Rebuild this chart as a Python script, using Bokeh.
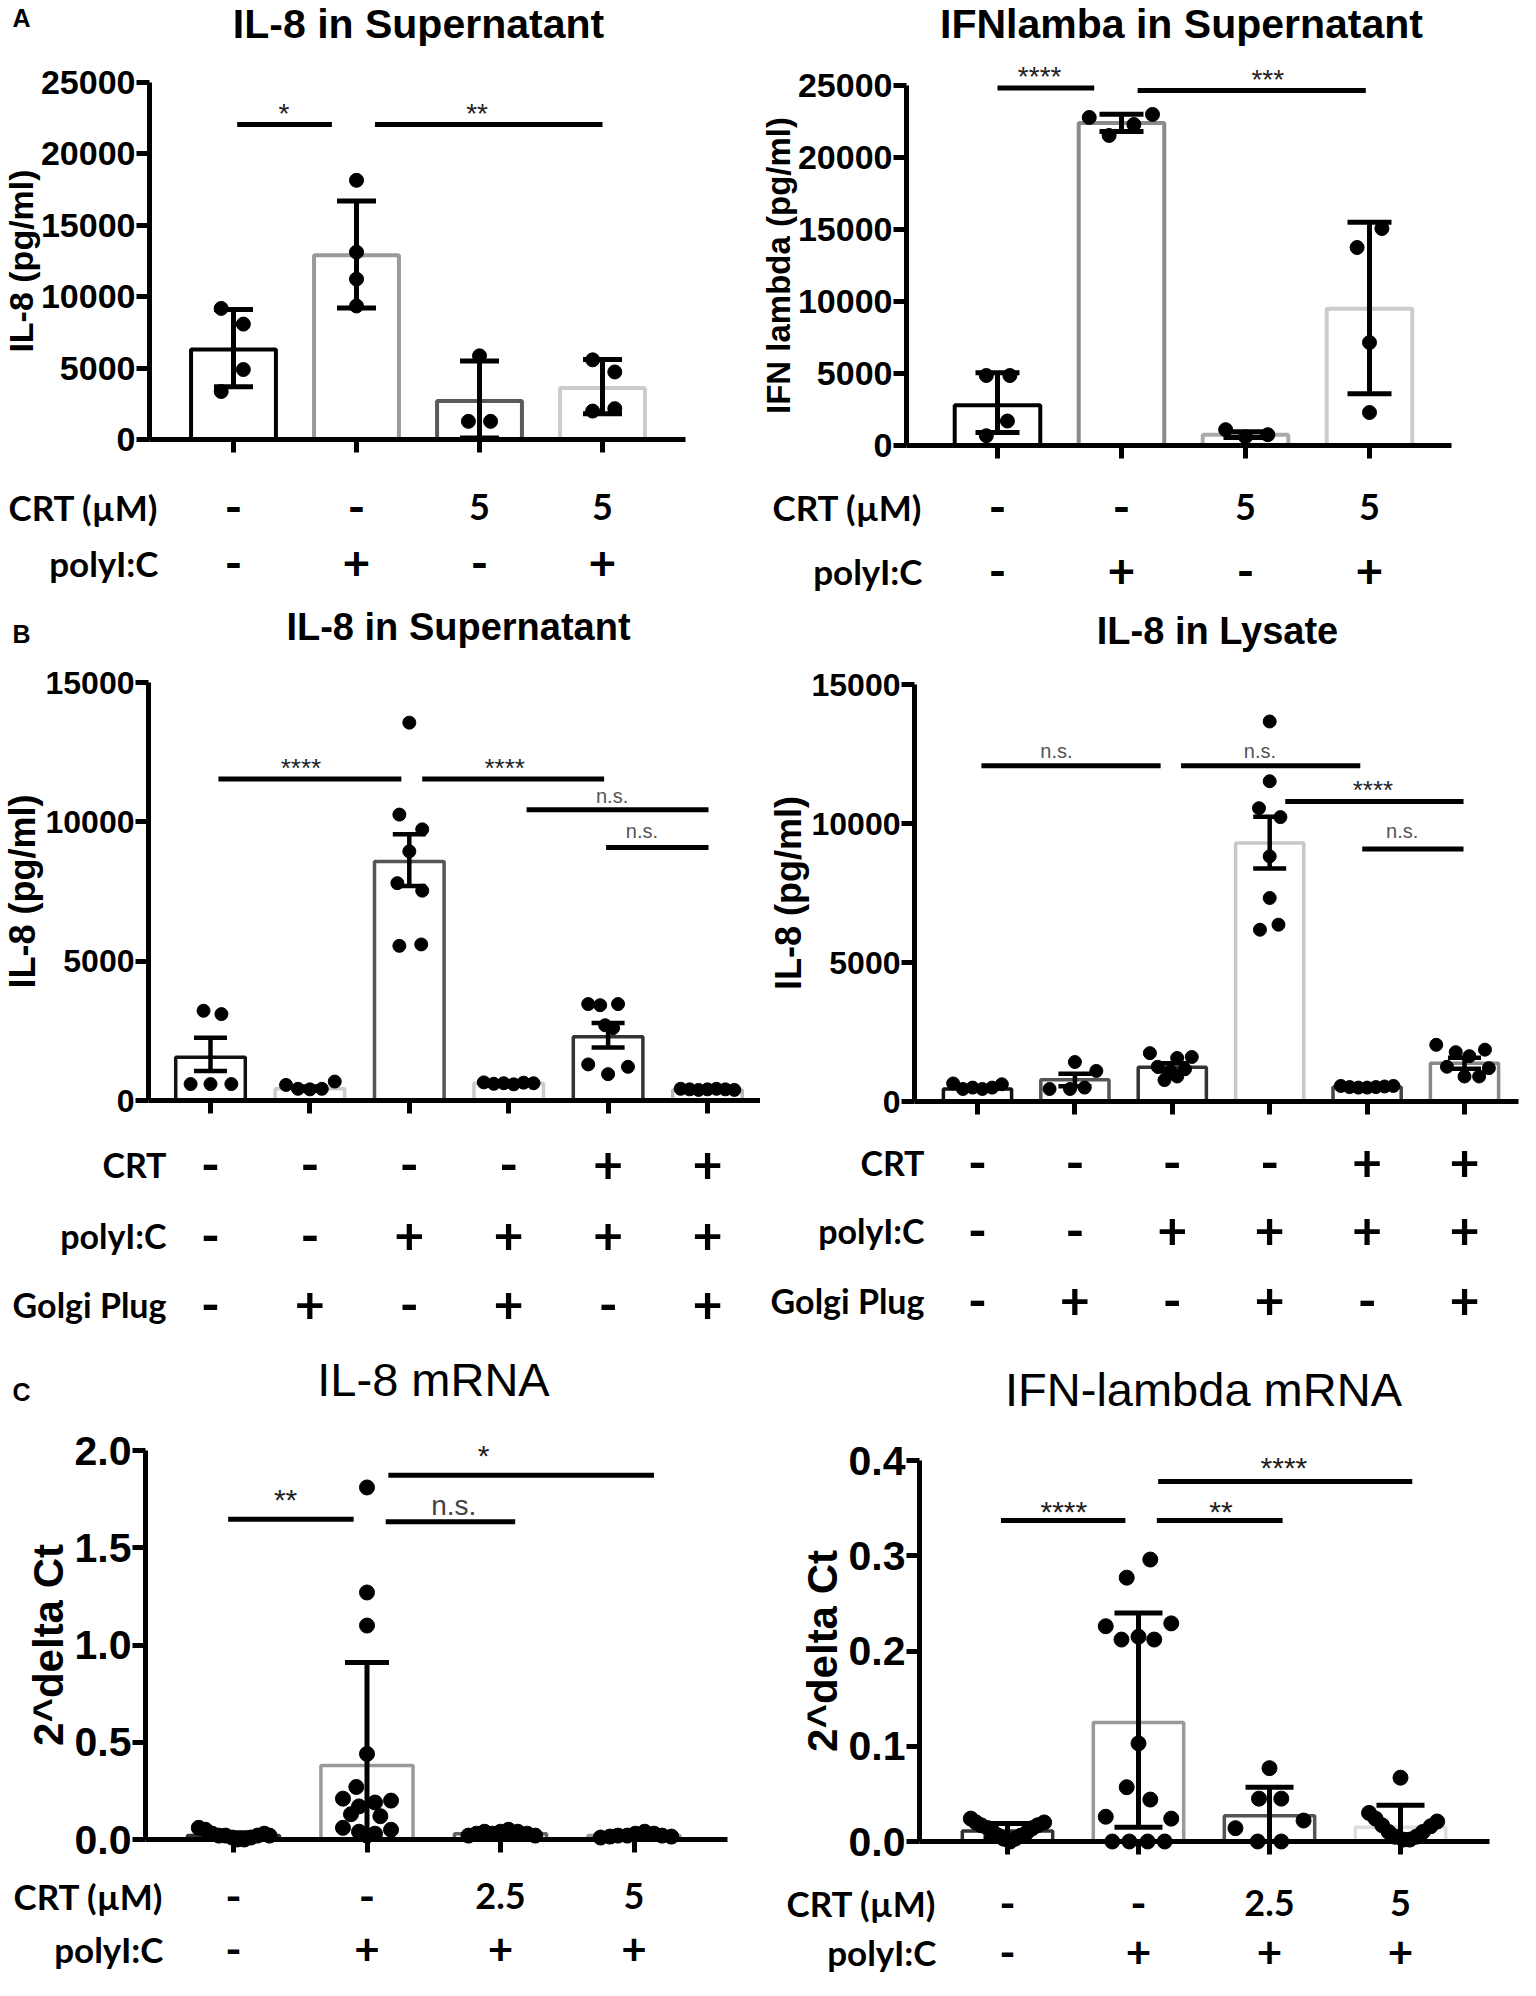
from bokeh.plotting import figure
from bokeh.models import (Range1d, LinearAxis, FixedTicker, NumeralTickFormatter,
                          BasicTickFormatter, ColumnDataSource, Whisker, TeeHead)
from bokeh.layouts import column, row
from bokeh.embed import file_html
from bokeh.resources import INLINE
from bokeh.core.properties import value

AXF = "Liberation Sans"
ROWF = "Lato"

# ====================== DATA ======================
# ---- A left: IL-8 in Supernatant (mean +/- SD) ----
a1_title = "IL-8 in Supernatant"
a1_ylabel = "IL-8 (pg/ml)"
a1_yticks = [0, 5000, 10000, 15000, 20000, 25000]
a1_mean = [6300, 12900, 2700, 3600]
a1_lo = [3700, 9200, 100, 1800]
a1_hi = [9100, 16700, 5500, 5600]
a1_pts = [[9180, 8080, 4900, 3360], [18150, 13120, 11230, 9350],
          [5860, 1270, 1270], [5580, 4730, 1990, 2160]]
a1_jit = [[-0.1, 0.08, 0.08, -0.1], [0, 0, 0, 0], [0, -0.09, 0.09], [-0.08, 0.1, -0.08, 0.1]]
a1_rows = ["CRT (µM)", "polyI:C"]
a1_vals = [["-", "-", "5", "5"], ["-", "+", "-", "+"]]
a1_sig = [(0.03, 0.80, 22060, 0.41, 23250, "*"), (1.15, 3.00, 22060, 1.98, 23250, "**")]
a1_colors = ["#000000", "#9a9a9a", "#5a5a5a", "#cccccc"]

# ---- A right: IFNlamba in Supernatant ----
a2_title = "IFNlamba in Supernatant"
a2_ylabel = "IFN lambda (pg/ml)"
a2_yticks = [0, 5000, 10000, 15000, 20000, 25000]
a2_mean = [2800, 22400, 750, 9500]
a2_lo = [900, 21800, 550, 3600]
a2_hi = [5050, 23000, 950, 15500]
a2_pts = [[4860, 4860, 1700, 680], [22780, 22990, 22290, 21530],
          [1100, 600, 750], [15070, 13750, 7150, 2290]]
a2_jit = [[-0.09, 0.1, 0.08, -0.09], [-0.26, 0.25, 0.1, -0.1], [-0.16, 0.0, 0.18], [0.1, -0.1, 0, 0]]
a2_rows = ["CRT (µM)", "polyI:C"]
a2_vals = [["-", "-", "5", "5"], ["-", "+", "-", "+"]]
a2_sig = [(0.0, 0.78, 24830, 0.34, 26040, "****"), (1.13, 2.97, 24650, 2.18, 25850, "***")]
a2_colors = ["#000000", "#8a8a8a", "#aaaaaa", "#cccccc"]

# ---- B left: IL-8 in Supernatant (mean +/- SEM) ----
b1_title = "IL-8 in Supernatant"
b1_ylabel = "IL-8 (pg/ml)"
b1_yticks = [0, 5000, 10000, 15000]
b1_mean = [1550, 420, 8580, 620, 2290, 380]
b1_lo = [1055, 350, 7700, 580, 1900, 350]
b1_hi = [2250, 500, 9550, 680, 2780, 420]
b1_pts = [[3220, 3100, 590, 590, 590],
          [560, 420, 400, 420, 680],
          [13560, 10260, 9730, 8940, 7800, 7530, 5550, 5600],
          [650, 600, 620, 580, 640, 620],
          [3460, 3420, 3460, 2700, 2600, 1295, 945, 1210],
          [420, 400, 380, 400, 420, 400, 380]]
b1_jit = [[-0.07, 0.11, -0.2, 0.0, 0.21],
          [-0.24, -0.12, 0.0, 0.12, 0.25],
          [0.0, -0.1, 0.13, 0.0, -0.12, 0.13, -0.1, 0.12],
          [-0.25, -0.15, -0.05, 0.05, 0.15, 0.25],
          [-0.2, -0.08, 0.1, -0.03, 0.05, -0.2, 0.0, 0.2],
          [-0.27, -0.18, -0.09, 0.0, 0.09, 0.18, 0.27]]
b1_rows = ["CRT", "polyI:C", "Golgi Plug"]
b1_vals = [["-", "-", "-", "-", "+", "+"], ["-", "-", "+", "+", "+", "+"], ["-", "+", "-", "+", "-", "+"]]
b1_sig = [(0.08, 1.92, 11540, 0.91, 12140, "****"), (2.13, 3.96, 11540, 2.96, 12140, "****"),
          (3.18, 5.01, 10435, 4.04, 10910, "n.s."), (3.98, 5.01, 9080, 4.34, 9680, "n.s.")]
b1_colors = ["#111111", "#cccccc", "#555555", "#cccccc", "#333333", "#bbbbbb"]

# ---- B right: IL-8 in Lysate ----
b2_title = "IL-8 in Lysate"
b2_ylabel = "IL-8 (pg/ml)"
b2_yticks = [0, 5000, 10000, 15000]
b2_mean = [450, 780, 1235, 9300, 520, 1376]
b2_lo = [400, 550, 1080, 8380, 480, 1180]
b2_hi = [500, 1000, 1380, 10240, 560, 1570]
b2_pts = [[650, 450, 500, 450, 500, 620],
          [450, 1420, 1100, 450, 500],
          [1740, 1565, 1600, 1250, 1080, 1160, 770, 900],
          [13670, 11520, 10550, 10230, 8820, 7320, 6180, 6360],
          [560, 520, 500, 500, 520, 540, 560],
          [2040, 1775, 1865, 1630, 1250, 900, 900, 1200]]
b2_jit = [[-0.25, -0.15, -0.05, 0.05, 0.15, 0.25],
          [-0.26, 0.0, 0.22, -0.05, 0.1],
          [-0.23, 0.05, 0.2, -0.15, -0.02, 0.13, -0.08, 0.05],
          [0.0, 0.0, -0.11, 0.11, 0.0, 0.0, -0.1, 0.09],
          [-0.27, -0.18, -0.09, 0.0, 0.09, 0.18, 0.27],
          [-0.29, -0.09, 0.21, 0.05, -0.18, 0.0, 0.15, 0.25]]
b2_rows = ["CRT", "polyI:C", "Golgi Plug"]
b2_vals = [["-", "-", "-", "-", "+", "+"], ["-", "-", "+", "+", "+", "+"], ["-", "+", "-", "+", "-", "+"]]
b2_sig = [(0.04, 1.88, 12080, 0.81, 12610, "n.s."), (2.09, 3.93, 12080, 2.90, 12610, "n.s."),
          (3.16, 4.99, 10795, 4.06, 11430, "****"), (3.95, 4.99, 9086, 4.36, 9740, "n.s.")]
b2_colors = ["#111111", "#555555", "#333333", "#c8c8c8", "#444444", "#888888"]

# ---- C left: IL-8 mRNA ----
c1_title = "IL-8 mRNA"
c1_ylabel = "2^delta Ct"
c1_yticks = [0.0, 0.5, 1.0, 1.5, 2.0]
c1_mean = [0.02, 0.38, 0.03, 0.02]
c1_lo = [0.005, 0.0, 0.01, 0.005]
c1_hi = [0.035, 0.91, 0.045, 0.035]
c1_pts = [[0.06, 0.05, 0.03, 0.02, 0.02, 0.01, 0.0, 0.0, 0.01, 0.02, 0.03, 0.02],
          [1.81, 1.27, 1.10, 0.44, 0.27, 0.21, 0.20, 0.19, 0.17, 0.13, 0.12, 0.06, 0.05, 0.04, 0.03, 0.02],
          [0.02, 0.03, 0.04, 0.03, 0.04, 0.05, 0.04, 0.03, 0.02],
          [0.01, 0.015, 0.02, 0.02, 0.03, 0.04, 0.03, 0.02, 0.015]]
c1_jit = [[-0.26, -0.21, -0.16, -0.11, -0.06, -0.01, 0.03, 0.08, 0.13, 0.18, 0.23, 0.27],
          [0, 0, 0, 0, -0.08, -0.18, 0.18, 0.06, -0.06, -0.12, 0.1, -0.18, 0.18, -0.06, 0.06, 0],
          [-0.24, -0.18, -0.12, -0.06, 0.0, 0.06, 0.13, 0.2, 0.26],
          [-0.25, -0.18, -0.12, -0.05, 0.01, 0.08, 0.15, 0.21, 0.28]]
c1_rows = ["CRT (µM)", "polyI:C"]
c1_vals = [["-", "-", "2.5", "5"], ["-", "+", "+", "+"]]
c1_sig = [(-0.04, 0.90, 1.647, 0.39, 1.785, "**"), (1.14, 2.11, 1.634, 1.65, 1.717, "n.s."),
          (1.16, 3.15, 1.873, 1.874, 2.012, "*")]
c1_colors = ["#333333", "#999999", "#666666", "#999999"]

# ---- C right: IFN-lambda mRNA ----
c2_title = "IFN-lambda mRNA"
c2_ylabel = "2^delta Ct"
c2_yticks = [0.0, 0.1, 0.2, 0.3, 0.4]
c2_mean = [0.011, 0.125, 0.027, 0.015]
c2_lo = [0.004, 0.015, 0.0, 0.0]
c2_hi = [0.019, 0.24, 0.057, 0.038]
c2_pts = [[0.024, 0.02, 0.017, 0.014, 0.01, 0.006, 0.003, 0.0, 0.003, 0.006, 0.01, 0.014, 0.017, 0.02],
          [0.296, 0.277, 0.226, 0.229, 0.212, 0.212, 0.215, 0.103, 0.057, 0.044, 0.026, 0.024,
           0.0, 0.0, 0.0, 0.0],
          [0.077, 0.045, 0.045, 0.022, 0.014, 0.0, 0.0],
          [0.067, 0.03, 0.024, 0.017, 0.01, 0.005, 0.002, 0.002, 0.005, 0.01, 0.016, 0.021]]
c2_jit = [[-0.28, -0.24, -0.2, -0.15, -0.11, -0.07, -0.03, 0.02, 0.06, 0.1, 0.15, 0.19, 0.23, 0.28],
          [0.09, -0.09, -0.25, 0.25, -0.13, 0.12, 0.0, 0.0, -0.09, 0.09, -0.25, 0.25,
           -0.2, -0.07, 0.07, 0.2],
          [0.0, -0.08, 0.09, 0.26, -0.26, -0.09, 0.09],
          [0.0, -0.24, -0.19, -0.14, -0.09, -0.04, 0.02, 0.07, 0.12, 0.17, 0.23, 0.28]]
c2_rows = ["CRT (µM)", "polyI:C"]
c2_vals = [["-", "-", "2.5", "5"], ["-", "+", "+", "+"]]
c2_sig = [(-0.05, 0.90, 0.337, 0.43, 0.354, "****"), (1.14, 2.10, 0.337, 1.63, 0.354, "**"),
          (1.15, 3.09, 0.378, 2.11, 0.400, "****")]
c2_colors = ["#333333", "#999999", "#555555", "#dddddd"]

# ====================== LAYOUT (page pixel geometry) ======================
LA = dict(W=760, H=602, tick_fs=34, ylab_fs=34, ylab_so=-2, title_fs=41, title_style="bold", row_fs=35,
          pm_fs=48, num_fs=36, ms=14, elw=5, blw=4, bw=0.69, star_fs=28, ns_fs=20, ns_col="#555555")
LB = dict(W=760, H=735, tick_fs=32, ylab_fs=36, ylab_so=0, title_fs=38, title_style="bold", row_fs=34,
          pm_fs=52, num_fs=34, ms=13, elw=4.5, blw=3.5, bw=0.70, star_fs=26, ns_fs=20, ns_col="#555555")
LC = dict(W=760, H=643, tick_fs=41, ylab_fs=42, ylab_so=0, title_fs=47, title_style="normal", row_fs=35,
          pm_fs=44, num_fs=36, ms=15, elw=5, blw=3.5, bw=0.69, star_fs=30, ns_fs=28, ns_col="#444444")

L_a1 = dict(LA, fx=8, fy=8, c0=241, s=123, y0=447, k=357 / 25000, ax=(157, 693), title=(426, 31),
            letter=("A", 29, 25), rows_y=[514, 570], rlx=166, cap=39)
L_a2 = dict(LA, fx=768, fy=8, c0=1005, s=124, y0=453, k=360 / 25000, ax=(914, 1459), title=(1189, 31),
            letter=None, rows_y=[514, 578], rlx=930, cap=44, ylab_fs=33)
L_b1 = dict(LB, fx=8, fy=610, c0=218, s=99.4, y0=1108, k=418 / 15000, ax=(156, 775), title=(466, 634),
            letter=("B", 29, 641), rows_y=[1172, 1243, 1312], rlx=174, cap=33)
L_b2 = dict(LB, fx=768, fy=610, c0=985, s=97.4, y0=1109, k=417 / 15000, ax=(922, 1526), title=(1225, 638),
            letter=None, rows_y=[1170, 1238, 1308], rlx=932, cap=33)
L_c1 = dict(LC, fx=8, fy=1345, c0=241, s=133.5, y0=1847, k=389 / 2.0, ax=(153, 735), title=(441, 1387),
            letter=("C", 29, 1399), rows_y=[1903, 1956], rlx=171, cap=44)
L_c2 = dict(LC, fx=768, fy=1345, c0=1015, s=131, y0=1849, k=381 / 0.4, ax=(927, 1497), title=(1211, 1397),
            letter=None, rows_y=[1910, 1959], rlx=944, cap=48)


def make_panel(title, ylabel, yticks, mean, lo, hi, pts, jit, rows, vals, sig, colors, L, fmt=None):
    W, H = L["W"], L["H"]
    c0, s, y0, k, fx, fy = L["c0"], L["s"], L["y0"], L["k"], L["fx"], L["fy"]

    def dx(X):
        return (X - c0) / s

    def dy(Y):
        return (y0 - Y) / k

    p = figure(width=W, height=H, x_range=Range1d(dx(fx), dx(fx + W)),
               y_range=Range1d(dy(fy + H), dy(fy)), x_axis_type=None, y_axis_type=None,
               toolbar_location=None, output_backend="svg", min_border=0,
               outline_line_color=None)
    p.min_border_left = p.min_border_right = p.min_border_top = p.min_border_bottom = 0
    n = len(mean)
    xs = list(range(n))
    ax0, ax1 = dx(L["ax"][0]), dx(L["ax"][1])

    # bars
    p.vbar(x=xs, top=mean, bottom=0, width=L["bw"], fill_color=None, line_color=colors,
           line_width=L["blw"])
    # error bars
    wsrc = ColumnDataSource(dict(x=xs, lo=lo, hi=hi))
    p.add_layout(Whisker(source=wsrc, base="x", upper="hi", lower="lo", dimension="height",
                         line_width=L["elw"], line_color="black", level="glyph",
                         upper_head=TeeHead(size=L["cap"], line_width=L["elw"], line_color="black"),
                         lower_head=TeeHead(size=L["cap"], line_width=L["elw"], line_color="black")))
    # individual points
    px, py = [], []
    for i, (g, j) in enumerate(zip(pts, jit)):
        for v, o in zip(g, j):
            px.append(i + o)
            py.append(v)
    p.scatter(px, py, size=L["ms"], color="black")

    # y axis
    yax = LinearAxis(fixed_location=ax0, bounds=(yticks[0], yticks[-1]),
                     ticker=FixedTicker(ticks=yticks), axis_label=ylabel)
    yax.formatter = fmt if fmt is not None else BasicTickFormatter(use_scientific=False)
    yax.axis_line_width = 5
    yax.axis_line_color = "black"
    yax.major_tick_line_width = 5
    yax.major_tick_line_color = "black"
    yax.major_tick_out = 13
    yax.major_tick_in = 0
    yax.minor_tick_line_color = None
    yax.major_label_standoff = 1
    yax.major_label_text_font = AXF
    yax.major_label_text_font_style = "bold"
    yax.major_label_text_font_size = f"{L['tick_fs']}px"
    yax.major_label_text_color = "black"
    yax.axis_label_text_font = AXF
    yax.axis_label_text_font_style = "bold"
    yax.axis_label_text_font_size = f"{L['ylab_fs']}px"
    yax.axis_label_text_color = "black"
    yax.axis_label_standoff = L["ylab_so"]
    p.add_layout(yax, "left")

    # x axis (baseline with ticks under each bar)
    xax = LinearAxis(fixed_location=0, bounds=(ax0, ax1), ticker=FixedTicker(ticks=xs))
    xax.axis_line_width = 5
    xax.axis_line_color = "black"
    xax.major_tick_line_width = 5
    xax.major_tick_line_color = "black"
    xax.major_tick_out = 13
    xax.major_tick_in = 0
    xax.minor_tick_line_color = None
    xax.major_label_overrides = {i: "" for i in xs}
    p.add_layout(xax, "below")

    # significance bars
    sx0 = [t[0] for t in sig]
    sx1 = [t[1] for t in sig]
    sy = [t[2] for t in sig]
    p.segment(x0=sx0, y0=sy, x1=sx1, y1=sy, line_width=5, line_color="black")
    stars = [t for t in sig if t[5].startswith("*")]
    ns = [t for t in sig if not t[5].startswith("*")]
    if stars:
        p.text(x=[t[3] for t in stars], y=[t[4] for t in stars], text=[t[5] for t in stars],
               text_font=value(AXF), text_font_size=f"{L['star_fs']}px", text_color="#222222",
               text_align="center", text_baseline="middle", y_offset=round(0.23 * L["star_fs"]))
    if ns:
        p.text(x=[t[3] for t in ns], y=[t[4] for t in ns], text=[t[5] for t in ns],
               text_font=value(AXF), text_font_size=f"{L['ns_fs']}px", text_color=L["ns_col"],
               text_align="center", text_baseline="middle")

    # condition table under the axis
    tx, ty, tt, tf = [], [], [], []
    for r, vs in enumerate(vals):
        yv = dy(L["rows_y"][r])
        for i, v in enumerate(vs):
            tx.append(i)
            ty.append(yv)
            tt.append(v)
            tf.append(f"{L['pm_fs']}px" if v in ("+", "-") else f"{L['num_fs']}px")
    p.text(x=tx, y=ty, text=tt, text_font_size=tf, text_font=value(ROWF), text_font_style="bold",
           text_align="center", text_baseline="middle", text_color="black")
    p.text(x=[dx(L["rlx"])] * len(rows), y=[dy(Y) for Y in L["rows_y"]], text=rows,
           text_font=value(ROWF), text_font_style="bold", text_font_size=f"{L['row_fs']}px",
           text_align="right", text_baseline="middle", text_color="black")

    # panel title
    p.text(x=[dx(L["title"][0])], y=[dy(L["title"][1])], text=[title], text_font=value(AXF),
           text_font_size=f"{L['title_fs']}px", text_font_style=L["title_style"],
           text_align="center", text_baseline="middle", text_color="black")
    if L["letter"] is not None:
        lt, lx, ly = L["letter"]
        p.text(x=[dx(lx)], y=[dy(ly)], text=[lt], text_font=value(AXF), text_font_size="25px",
               text_font_style="bold", text_align="center", text_baseline="middle",
               text_color="black")
    return p


p_a1 = make_panel(a1_title, a1_ylabel, a1_yticks, a1_mean, a1_lo, a1_hi, a1_pts, a1_jit, a1_rows,
                  a1_vals, a1_sig, a1_colors, L_a1)
p_a2 = make_panel(a2_title, a2_ylabel, a2_yticks, a2_mean, a2_lo, a2_hi, a2_pts, a2_jit, a2_rows,
                  a2_vals, a2_sig, a2_colors, L_a2)
p_b1 = make_panel(b1_title, b1_ylabel, b1_yticks, b1_mean, b1_lo, b1_hi, b1_pts, b1_jit, b1_rows,
                  b1_vals, b1_sig, b1_colors, L_b1)
p_b2 = make_panel(b2_title, b2_ylabel, b2_yticks, b2_mean, b2_lo, b2_hi, b2_pts, b2_jit, b2_rows,
                  b2_vals, b2_sig, b2_colors, L_b2)
p_c1 = make_panel(c1_title, c1_ylabel, c1_yticks, c1_mean, c1_lo, c1_hi, c1_pts, c1_jit, c1_rows,
                  c1_vals, c1_sig, c1_colors, L_c1, fmt=NumeralTickFormatter(format="0.0"))
p_c2 = make_panel(c2_title, c2_ylabel, c2_yticks, c2_mean, c2_lo, c2_hi, c2_pts, c2_jit, c2_rows,
                  c2_vals, c2_sig, c2_colors, L_c2, fmt=NumeralTickFormatter(format="0.0"))

layout = column(row(p_a1, p_a2), row(p_b1, p_b2), row(p_c1, p_c2))
open("out.html", "w").write(file_html(layout, INLINE))
